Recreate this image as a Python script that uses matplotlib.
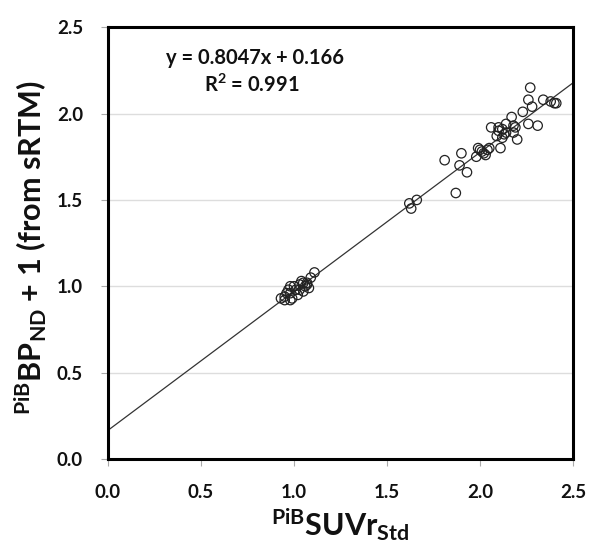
import numpy as np
import matplotlib
matplotlib.use('Agg')
import matplotlib.pyplot as plt

plt.rcParams['font.family'] = ['Lato', 'DejaVu Sans']
plt.rcParams['mathtext.fontset'] = 'custom'
plt.rcParams['mathtext.rm'] = 'Lato:bold'
plt.rcParams['mathtext.it'] = 'Lato:bold'
plt.rcParams['mathtext.bf'] = 'Lato:bold'

# SUVr (x) vs BPnd + 1 (y)
suvr = [0.93, 0.95, 0.97, 0.98, 1.00, 1.03, 1.05, 1.07, 1.09, 1.11, 1.05, 1.02,
        0.99, 0.96, 1.03, 1.08, 1.06, 1.01, 0.98, 1.04, 1.07, 0.95, 0.98,
        1.62, 1.63, 1.66,
        1.81, 1.87, 1.89, 1.90, 1.93,
        1.98, 1.99, 2.00, 2.02, 2.04, 2.05, 2.01, 2.03,
        2.06, 2.10, 2.09, 2.11, 2.12, 2.13, 2.14, 2.10, 2.12, 2.14, 2.17, 2.18,
        2.19, 2.18, 2.20,
        2.23, 2.26, 2.26, 2.27, 2.28, 2.31, 2.34, 2.38, 2.40, 2.41]
bpnd1 = [0.93, 0.94, 0.98, 0.96, 1.00, 1.01, 1.02, 1.02, 1.05, 1.08, 0.97, 0.95,
         0.93, 0.96, 0.98, 0.99, 1.00, 0.98, 1.00, 1.03, 1.01, 0.92, 0.92,
         1.48, 1.45, 1.50,
         1.73, 1.54, 1.70, 1.77, 1.66,
         1.75, 1.80, 1.79, 1.77, 1.79, 1.80, 1.78, 1.76,
         1.92, 1.92, 1.87, 1.80, 1.86, 1.88, 1.94, 1.90, 1.91, 1.89, 1.98, 1.93,
         1.92, 1.89, 1.85,
         2.01, 1.94, 2.08, 2.15, 2.04, 1.93, 2.08, 2.07, 2.06, 2.06]

slope = 0.8047
intercept = 0.166
ticks = [0.0, 0.5, 1.0, 1.5, 2.0, 2.5]

fig = plt.figure(figsize=(6, 5.55), dpi=100)
ax = fig.add_axes([0.18, 0.173, 0.775, 0.778])

ax.scatter(suvr, bpnd1, s=46, facecolors='none', edgecolors='#222222',
           linewidths=0.9, zorder=3)

xl = np.array([0, 2.5])
ax.plot(xl, slope * xl + intercept, color='#333333', linewidth=0.9, zorder=2)

ax.set_xlim(0, 2.5)
ax.set_ylim(0, 2.5)
ax.set_xticks(ticks)
ax.set_yticks(ticks)
ax.set_xticklabels([f'{t:.1f}' for t in ticks])
ax.set_yticklabels([f'{t:.1f}' for t in ticks])
ax.yaxis.grid(True, color='#dddddd', linewidth=1)
ax.set_axisbelow(True)

for s in ax.spines.values():
    s.set_linewidth(2.2)
    s.set_color('black')
ax.tick_params(length=5, width=0.8, color='#aaaaaa', pad=13, labelsize=13.5)
for lab in ax.get_xticklabels() + ax.get_yticklabels():
    lab.set_fontweight('bold')
    lab.set_color('#111111')

ax.text(0.79, 2.32, 'y = 0.8047x + 0.166', ha='center', va='center',
        fontsize=14.5, fontweight='bold', color='#111111')
ax.text(0.775, 2.165, r'R$^{2}$ = 0.991', ha='center', va='center',
        fontsize=14.5, fontweight='bold', color='#111111')

ax.set_xlabel(r'$^{\mathrm{PiB}}$SUVr$_{\mathrm{Std}}$', fontsize=22,
              fontweight='bold', color='#111111', labelpad=4)
ax.set_ylabel(r'$^{\mathrm{PiB}}$BP$_{\mathrm{ND}}$ + 1 (from sRTM)', fontsize=22,
              fontweight='bold', color='#111111')
ax.yaxis.set_label_coords(-0.13, 0.49)

fig.savefig('out.png', dpi=100)
